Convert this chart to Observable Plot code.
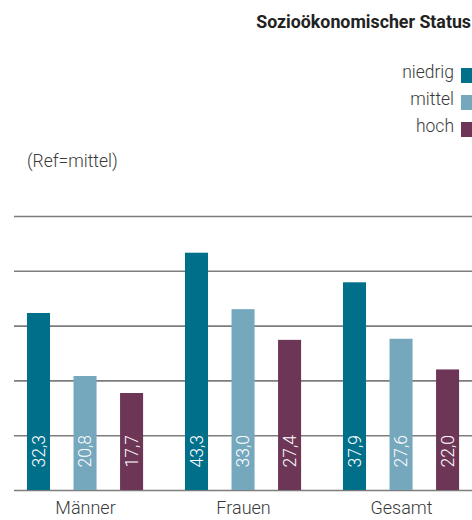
<!DOCTYPE html>
<html>
<head>
<meta charset="utf-8">
<script src="https://cdn.jsdelivr.net/npm/d3@7"></script>
<script src="https://cdn.jsdelivr.net/npm/@observablehq/plot@0.6"></script>
<style>
  html, body { margin: 0; padding: 0; background: #fff; overflow: hidden; }
  #wrap { width: 472px; height: 520px; position: relative; overflow: hidden; }
  #header { position: relative; width: 472px; height: 200px; color: #3a3a3a; font-family: Roboto, "Liberation Sans", sans-serif; }
  #title { position: absolute; right: 1px; top: 13px; font-size: 17.8px; line-height: 17.8px; font-weight: bold; color: #222; white-space: nowrap; }
  .lg-text { position: absolute; right: 18px; font-size: 17.5px; line-height: 17.5px; font-weight: 300; white-space: nowrap; color: #3a3a3a; }
  .lg-sw { position: absolute; left: 461px; width: 15px; height: 15px; }
  #ref { position: absolute; left: 27px; top: 153px; font-size: 17.5px; line-height: 17.5px; font-weight: 300; white-space: nowrap; }
</style>
</head>
<body>
<div id="wrap">
  <div id="header">
    <div id="title">Sozioökonomischer Status</div>
    <div id="legend"></div>
    <div id="ref">(Ref=mittel)</div>
  </div>
  <div id="chart"></div>
</div>
<script>
// ---- data ----
const groups = ["Männer", "Frauen", "Gesamt"];
const statuses = ["niedrig", "mittel", "hoch"];
const statusColors = ["#006f8a", "#75a7bd", "#6d3656"];
const maenner = [32.3, 20.8, 17.7];
const frauen = [43.3, 33.0, 27.4];
const gesamt = [37.9, 27.6, 22.0];
const gridTicks = [0, 10, 20, 30, 40, 50];

const seriesByGroup = [maenner, frauen, gesamt];
const data = [];
groups.forEach((g, gi) => {
  statuses.forEach((s, si) => {
    data.push({group: g, status: s, value: seriesByGroup[gi][si]});
  });
});

const fmt = v => v.toFixed(1).replace(".", ",");

// ---- legend (label left, swatch right) ----
const legend = document.getElementById("legend");
const swatchTops = [68, 95, 122];
statuses.forEach((s, i) => {
  const t = document.createElement("div");
  t.className = "lg-text";
  t.textContent = s;
  t.style.top = (swatchTops[i] + 11 - 14.7) + "px";
  legend.appendChild(t);
  const sw = document.createElement("div");
  sw.className = "lg-sw";
  sw.style.top = swatchTops[i] + "px";
  sw.style.background = statusColors[i];
  legend.appendChild(sw);
});

// ---- chart ----
const chart = Plot.plot({
  width: 472,
  height: 320,
  marginTop: 16,
  marginBottom: 30,
  marginLeft: 14,
  marginRight: -16,
  style: {
    fontFamily: 'Roboto, "Liberation Sans", sans-serif',
    fontSize: "18px",
    fontWeight: 300,
    color: "#3a3a3a",
    background: "white",
    overflow: "hidden"
  },
  fx: {domain: groups, padding: 0, axis: null, round: false},
  x: {domain: statuses, paddingInner: 0.505, paddingOuter: 0.45, align: 0.31, axis: null, round: false},
  y: {domain: [0, 50], axis: null},
  color: {domain: statuses, range: statusColors},
  marks: [
    Plot.ruleY(gridTicks, {stroke: "#7d7d7d", strokeWidth: 1.6}),
    Plot.barY(data, {fx: "group", x: "status", y: "value", fill: "status"}),
    Plot.text(data, {
      fx: "group", x: "status", y: () => 0,
      text: d => fmt(d.value),
      rotate: -90, textAnchor: "start", lineAnchor: "middle",
      dy: -23, fill: "white", fontSize: 17.5
    }),
    Plot.text(groups, {
      fx: d => d, x: () => "mittel",
      text: d => d,
      frameAnchor: "bottom", lineAnchor: "top", dy: 11,
      fill: "#3a3a3a", fontSize: 18
    })
  ]
});
document.getElementById("chart").appendChild(chart);
</script>
</body>
</html>
